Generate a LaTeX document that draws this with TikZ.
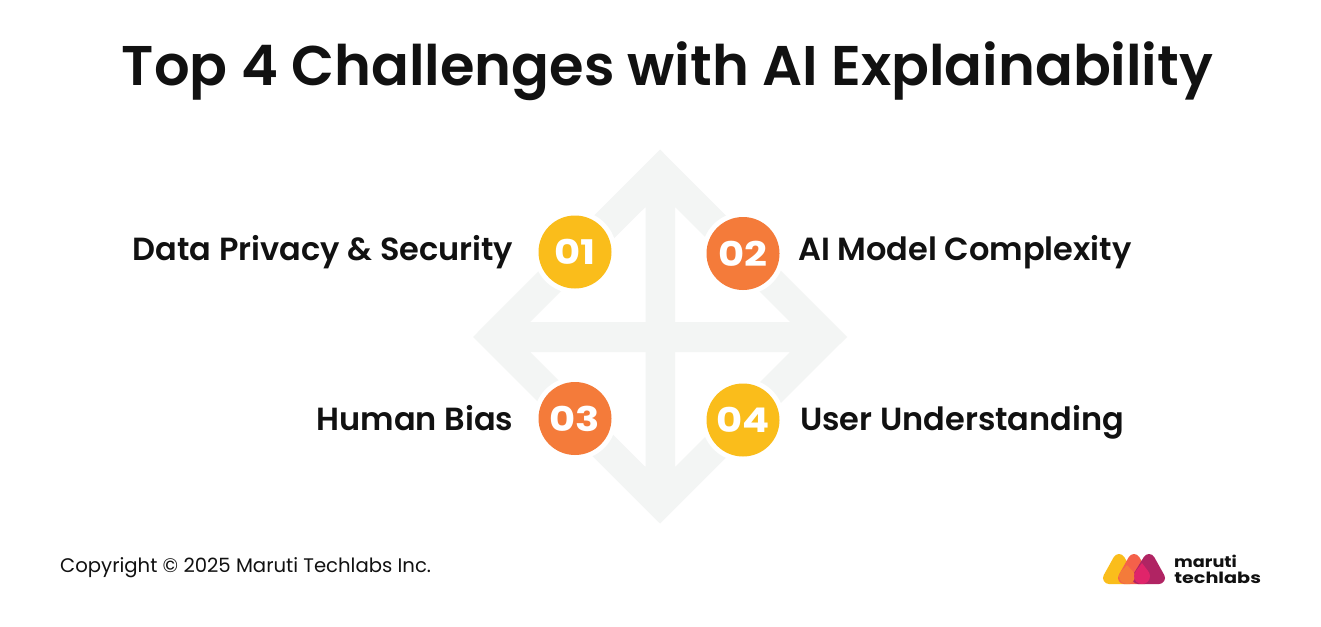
\documentclass[tikz,border=0pt]{standalone}
\usepackage{fontspec}
\setmainfont{Poppins}
\newfontfamily\psb{Poppins SemiBold}
\newfontfamily\pbd{Poppins Bold}
\newfontfamily\pnum[FakeStretch=1.18]{Poppins Bold}
\definecolor{ylw}{HTML}{FABD1B}
\definecolor{org}{HTML}{F47B3A}
\definecolor{bgd}{HTML}{F3F5F4}
\definecolor{ink}{HTML}{111111}
\definecolor{pnk}{HTML}{E0246A}
\definecolor{plm}{HTML}{B02463}
\definecolor{lorg}{HTML}{F4614A}
\tikzset{
  x=1pt,y=-1pt,
  badge/.style={circle,minimum size=73pt,inner sep=0pt,text=white,font=\pnum\fontsize{34}{34}\selectfont},
  halo/.style={circle,fill=white,minimum size=83pt,inner sep=0pt},
  lbl/.style={inner sep=0pt,text=ink,font=\psb\fontsize{32}{32}\selectfont},
  logotxt/.style={anchor=base west,inner sep=0pt,text=ink,font=\pbd\fontsize{15.5}{15.5}\selectfont},
  logoblob/.style={line join=round,line width=12pt},
}
\begin{document}
\begin{tikzpicture}
\useasboundingbox (0,0) rectangle (1321,626);
\fill[white] (0,0) rectangle (1321,626);
% background diamond with cross
\fill[bgd,even odd rule] (660,149.5) -- (847,337) -- (660,523.5) -- (473,337) -- cycle
  (645.5,207) -- (645.5,322) -- (530,322) -- cycle
  (675,207) -- (675,322) -- (790,322) -- cycle
  (645.5,467) -- (645.5,352) -- (530,352) -- cycle
  (675,467) -- (675,352) -- (790,352) -- cycle;
\node[anchor=base,inner sep=0pt,text=ink,font=\psb\fontsize{55.9}{56}\selectfont] (title) at (667.5,85) {Top 4 Challenges with AI Explainability};
\node[halo] (h1) at (575,252) {};
\node[halo] (h2) at (743,253.5) {};
\node[halo] (h3) at (575,418.5) {};
\node[halo] (h4) at (743,420) {};
\node[badge,fill=ylw] (b1) at (575,252) {01};
\node[badge,fill=org] (b2) at (743,253.5) {02};
\node[badge,fill=org] (b3) at (575,418.5) {03};
\node[badge,fill=ylw] (b4) at (743,420) {04};
\node[lbl,anchor=base east] (t1) at (513.5,260) {Data Privacy \& Security};
\node[lbl,anchor=base west] (t2) at (798,260) {AI Model Complexity};
\node[lbl,anchor=base east] (t3) at (513.5,430.5) {Human Bias};
\node[lbl,anchor=base west] (t4) at (800,430.5) {User Understanding};
\node[anchor=base west,inner sep=0pt,text=ink,font=\fontsize{19.65}{19.65}\selectfont] (copy) at (60,572) {Copyright © 2025 Maruti Techlabs Inc.};
% logo
\fill[ylw,draw=ylw,logoblob] (1119,560) -- (1130,578) -- (1109,578) -- cycle;
\fill[lorg,draw=lorg,logoblob] (1134,560) -- (1145,578) -- (1124,578) -- cycle;
\fill[plm,draw=plm,logoblob] (1149,560) -- (1159,578) -- (1138,578) -- cycle;
\fill[org] (1127,565) .. controls (1123,570) and (1119,572) .. (1119,576) .. controls (1119,581) and (1123,584) .. (1127,584) .. controls (1131,584) and (1135,581) .. (1135,576) .. controls (1135,572) and (1131,570) .. (1127,565) -- cycle;
\fill[pnk] (1142,563) .. controls (1138,569) and (1134,572) .. (1134,576) .. controls (1134,581) and (1138,584) .. (1142,584) .. controls (1146,584) and (1150,581) .. (1150,576) .. controls (1150,572) and (1146,569) .. (1142,563) -- cycle;
\node[logotxt,xscale=1.14] (lg1) at (1174,567) {maruti};
\node[logotxt,xscale=1.24] (lg2) at (1174,583) {techlabs};
\end{tikzpicture}
\end{document}
